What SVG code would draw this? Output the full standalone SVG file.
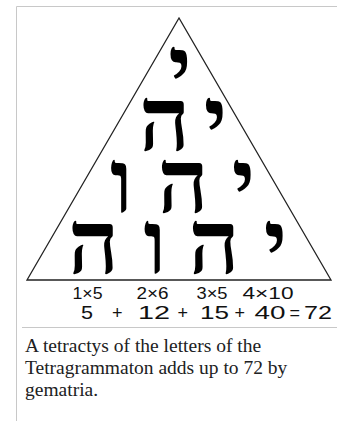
<svg xmlns="http://www.w3.org/2000/svg" width="337" height="421" viewBox="0 0 337 421">
<style>
.frame{fill:none;stroke:#c8c8c8;stroke-width:1}
.heb{font-family:"Liberation Serif","DejaVu Serif",serif;font-weight:bold;font-size:89px;fill:#000;text-anchor:middle}
.small{font-family:"Liberation Sans",Arial,sans-serif;font-size:16px;fill:#111}
.sum{font-family:"Liberation Sans",Arial,sans-serif;font-size:18px;fill:#111}
.cap{font-family:"Liberation Serif","Times New Roman",serif;font-size:19.5px;fill:#202122}
</style>
<rect width="337" height="421" fill="#fff"/>
<path class="frame" d="M16.5,421 V6.5 H337"/>
<line class="frame" x1="22" y1="327.5" x2="337" y2="327.5"/>
<g id="triangle">
<path d="M179,18 L27,280 L331,280 Z" fill="none" stroke="#222" stroke-width="1.3" stroke-linejoin="miter"/>
</g>
<g id="row1"><text class="heb" x="180" y="99">י</text></g>
<g id="row2"><text class="heb" x="164.5" y="150">ה</text><text class="heb" x="215.5" y="150">י</text></g>
<g id="row3"><text class="heb" x="121.5" y="212">ו</text><text class="heb" x="183" y="212">ה</text><text class="heb" x="243.5" y="212">י</text></g>
<g id="row4"><text class="heb" x="93.5" y="273">ה</text><text class="heb" x="155" y="273">ו</text><text class="heb" x="214" y="273">ה</text><text class="heb" x="275.5" y="273">י</text></g>
<g id="products">
<text class="small" x="72.5" y="299" textLength="30" lengthAdjust="spacingAndGlyphs">1×5</text>
<text class="small" x="136.5" y="299" textLength="32" lengthAdjust="spacingAndGlyphs">2×6</text>
<text class="small" x="196.5" y="299" textLength="31" lengthAdjust="spacingAndGlyphs">3×5</text>
<text class="small" x="242.5" y="299" textLength="51" lengthAdjust="spacingAndGlyphs">4×10</text>
</g>
<g id="sum">
<text class="sum" x="81" y="319" textLength="12" lengthAdjust="spacingAndGlyphs">5</text>
<text class="sum" x="112" y="319">+</text>
<text class="sum" x="138" y="319" textLength="32" lengthAdjust="spacingAndGlyphs">12</text>
<text class="sum" x="177.5" y="319">+</text>
<text class="sum" x="200" y="319" textLength="29" lengthAdjust="spacingAndGlyphs">15</text>
<text class="sum" x="234.5" y="319">+</text>
<text class="sum" x="254.5" y="319" textLength="31" lengthAdjust="spacingAndGlyphs">40</text>
<text class="sum" x="289.5" y="319">=</text>
<text class="sum" x="304" y="319" textLength="28" lengthAdjust="spacingAndGlyphs">72</text>
</g>
<g id="caption">
<text class="cap" x="25" y="352">A tetractys of the letters of the</text>
<text class="cap" x="25" y="374">Tetragrammaton adds up to 72 by</text>
<text class="cap" x="25" y="396">gematria.</text>
</g>
</svg>
